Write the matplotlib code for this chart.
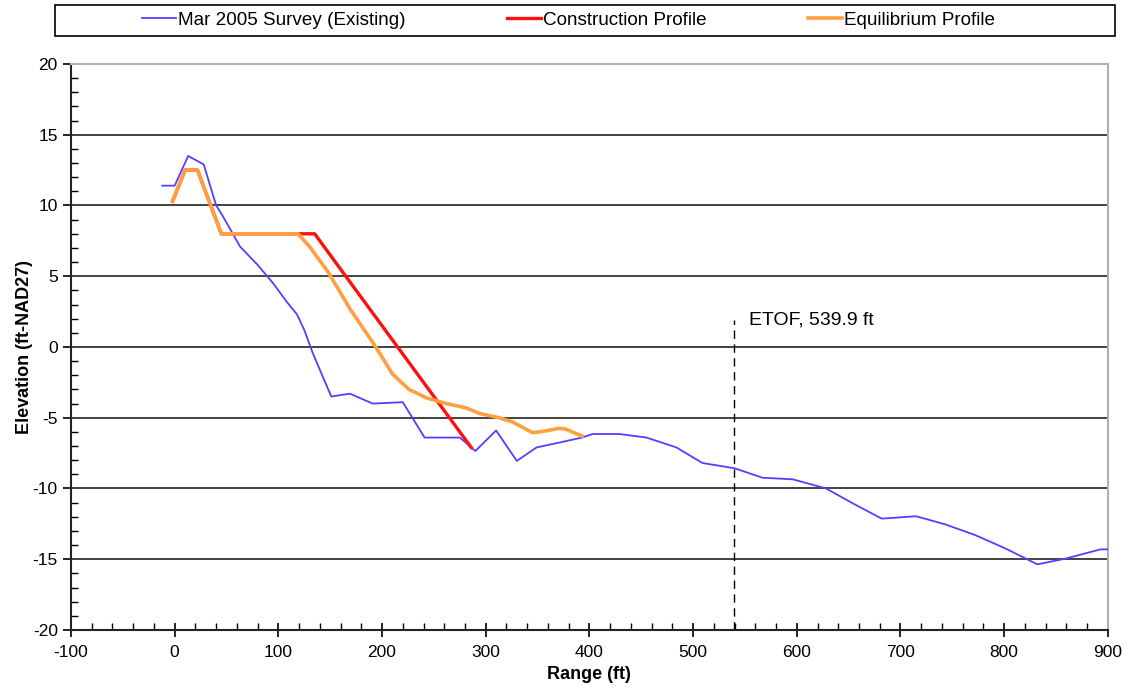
import matplotlib

matplotlib.use("Agg")
import matplotlib.pyplot as plt
from matplotlib.ticker import MultipleLocator

plt.rcParams["font.family"] = ["Liberation Sans", "DejaVu Sans"]
plt.rcParams["axes.unicode_minus"] = False

# Mar 2005 survey (existing profile)
survey_x = [-12, 0, 13, 28, 40, 46, 63, 80, 95, 108, 118, 125, 133, 151, 169,
            191, 220, 241, 264, 275, 290, 310, 330, 349, 368, 393, 403, 429,
            455, 484, 509, 540, 567, 596, 628, 654, 682, 715, 743, 772, 801,
            832, 859, 893, 905]
survey_y = [11.4, 11.4, 13.5, 12.9, 10.0, 9.3, 7.1, 5.8, 4.5, 3.2, 2.3, 1.2,
            -0.4, -3.5, -3.3, -4.0, -3.9, -6.4, -6.4, -6.4, -7.35, -5.9, -8.05,
            -7.1, -6.8, -6.4, -6.15, -6.15, -6.4, -7.1, -8.2, -8.57, -9.24,
            -9.35, -9.99, -11.05, -12.13, -11.96, -12.53, -13.29, -14.23,
            -15.36, -14.96, -14.3, -14.3]

# construction template (berm + 1:10 slope)
constr_x = [-2, 10, 22, 45, 135, 286]
constr_y = [10.3, 12.5, 12.5, 8.0, 8.0, -7.1]

# equilibrium profile
equil_x = [-2, 10, 22, 45, 119, 130, 148, 169, 194, 210, 226, 243, 262, 281,
           294, 313, 326, 345, 352, 371, 377, 393]
equil_y = [10.3, 12.5, 12.5, 8.0, 8.0, 7.1, 5.3, 2.7, 0.0, -1.9, -3.0, -3.6,
           -4.0, -4.3, -4.7, -5.0, -5.3, -6.05, -6.0, -5.75, -5.8, -6.3]

ETOF_X = 539.9
ETOF_TOP = 1.9

fig = plt.figure(figsize=(11.27, 7.0), dpi=100)
ax = fig.add_axes([0.063, 0.1, 0.92, 0.8086])

ax.plot(survey_x, survey_y, color="#5a3cff", lw=1.3,
        label="Mar 2005 Survey (Existing)", zorder=3)
ax.plot(constr_x, constr_y, color="#ff1010", lw=2.4,
        label="Construction Profile", zorder=4)
ax.plot(equil_x, equil_y, color="#ffa040", lw=2.6,
        label="Equilibrium Profile", zorder=5)

ax.plot([ETOF_X, ETOF_X], [-20, ETOF_TOP], ls=(0, (6, 4)), color="black",
        lw=1.0, zorder=2)
ax.text(ETOF_X + 14, ETOF_TOP, "ETOF, 539.9 ft", fontsize=14,
        va="center", ha="left")

ax.set_xlim(-100, 900)
ax.set_ylim(-20, 20)
ax.xaxis.set_major_locator(MultipleLocator(100))
ax.xaxis.set_minor_locator(MultipleLocator(20))
ax.yaxis.set_major_locator(MultipleLocator(5))
ax.yaxis.set_minor_locator(MultipleLocator(1))
ax.tick_params(axis="x", which="major", direction="inout", length=10,
               width=1.2, labelsize=12.5, pad=6)
ax.tick_params(axis="x", which="minor", direction="in", length=5, width=1)
ax.tick_params(axis="y", which="major", direction="out", length=6,
               width=1.2, labelsize=12.5)
ax.tick_params(axis="y", which="minor", direction="in", length=5, width=1)

ax.yaxis.grid(True, which="major", color="#222222", lw=1.2)
ax.set_axisbelow(True)
for side in ("left", "bottom"):
    ax.spines[side].set_color("#222222")
    ax.spines[side].set_linewidth(1.5)
for side in ("top", "right"):
    ax.spines[side].set_color("#b0b0b0")
    ax.spines[side].set_linewidth(1.5)

ax.set_xlabel("Range (ft)", fontsize=13, fontweight="bold", labelpad=4)
ax.set_ylabel("Elevation (ft-NAD27)", fontsize=13, fontweight="bold",
              labelpad=0)

leg = fig.legend(loc="center", bbox_to_anchor=(0.5045, 0.9714), ncol=3,
                 fontsize=13.6, frameon=False, handlelength=1.8,
                 handletextpad=0.12, columnspacing=5.35)
box = plt.Rectangle((55 / 1127, 1 - 36 / 700), 1060 / 1127, 31 / 700,
                    transform=fig.transFigure, fill=False, ec="black",
                    lw=1.2)
fig.add_artist(box)

fig.savefig("out.png", dpi=100)
